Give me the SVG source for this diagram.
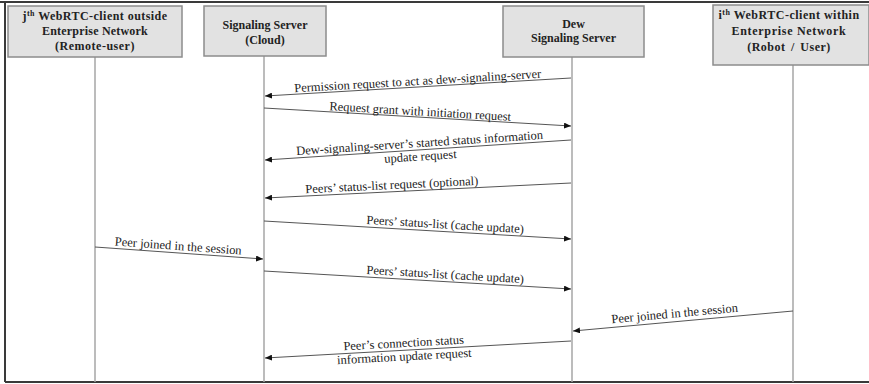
<svg xmlns="http://www.w3.org/2000/svg" width="869" height="384" viewBox="0 0 869 384">
<style>
.box{fill:#e2e2e2;stroke:#8c8c8c;stroke-width:1.5}
.hd{font-family:"Liberation Serif","Times New Roman",serif;font-size:12px;font-weight:bold;fill:#222;text-anchor:middle}
.life{stroke:#a6a6a6;stroke-width:1.5;fill:none}
.msg{stroke:#555;stroke-width:1;fill:none;marker-end:url(#ah)}
.lbl{font-family:"Liberation Serif","Times New Roman",serif;font-size:12.5px;fill:#222;text-anchor:middle}
.frame{stroke:#3a3a3a;stroke-width:2;fill:none}
</style>
<defs>
<marker id="ah" markerUnits="userSpaceOnUse" markerWidth="8" markerHeight="6" refX="7" refY="3" orient="auto">
<path d="M0,0 L7,3 L0,6 Z" fill="#111"/>
</marker>
</defs>
<rect width="869" height="384" fill="#fff"/>
<g id="frame">
<line class="frame" x1="0" y1="2" x2="869" y2="2"/>
<line class="frame" x1="5" y1="2" x2="5" y2="382"/>
<line class="frame" x1="5" y1="382" x2="869" y2="382"/>
</g>
<g id="lifelines">
<line class="life" x1="95" y1="57" x2="95" y2="382"/>
<line class="life" x1="264" y1="56" x2="264" y2="382"/>
<line class="life" x1="572" y1="57" x2="572" y2="382"/>
<line class="life" x1="793" y1="65" x2="793" y2="382"/>
</g>
<g id="node-remote">
<rect class="box" x="8" y="6" width="174" height="51"/>
<text class="hd" x="95" y="20" letter-spacing="0.45">j<tspan font-size="8" dy="-4">th</tspan><tspan dy="4"> WebRTC-client outside</tspan></text>
<text class="hd" x="95" y="35" letter-spacing="0.2">Enterprise Network</text>
<text class="hd" x="95" y="50" letter-spacing="0.5">(Remote-user)</text>
</g>
<g id="node-cloud">
<rect class="box" x="204" y="6" width="122" height="50"/>
<text class="hd" x="265" y="29">Signaling Server</text>
<text class="hd" x="265" y="44">(Cloud)</text>
</g>
<g id="node-dew">
<rect class="box" x="503" y="6" width="141" height="51"/>
<text class="hd" x="573.5" y="28">Dew</text>
<text class="hd" x="573.5" y="42">Signaling Server</text>
</g>
<g id="node-robot">
<rect class="box" x="713" y="5" width="156" height="60"/>
<text class="hd" x="789" y="19" letter-spacing="0.5">i<tspan font-size="8" dy="-4">th</tspan><tspan dy="4"> WebRTC-client within</tspan></text>
<text class="hd" x="789" y="35" letter-spacing="0.7">Enterprise Network</text>
<text class="hd" x="789" y="51" letter-spacing="0.5" word-spacing="2">(Robot / User)</text>
</g>
<g id="connectors">
<line class="msg" x1="571" y1="78" x2="265" y2="96"/>
<line class="msg" x1="264" y1="108" x2="571" y2="126"/>
<line class="msg" x1="571" y1="140" x2="265" y2="160"/>
<line class="msg" x1="571" y1="183" x2="265" y2="198"/>
<line class="msg" x1="264" y1="221" x2="571" y2="239"/>
<line class="msg" x1="95" y1="247" x2="263" y2="259"/>
<line class="msg" x1="264" y1="271" x2="571" y2="289"/>
<line class="msg" x1="793" y1="311" x2="573" y2="331"/>
<line class="msg" x1="571" y1="341" x2="265" y2="358"/>
</g>
<g id="labels">
<text class="lbl" x="418" y="85" transform="rotate(-3.37 418 85)">Permission request to act as dew-signaling-server</text>
<text class="lbl" x="420" y="115.5" transform="rotate(3.36 420 115.5)">Request grant with initiation request</text>
<g transform="rotate(-3.74 420 150)">
<text class="lbl" x="420" y="147">Dew-signaling-server’s started status information</text>
<text class="lbl" x="420" y="160.5">update request</text>
</g>
<text class="lbl" x="392" y="189" transform="rotate(-2.81 392 189)">Peers’ status-list request (optional)</text>
<text class="lbl" x="445" y="228.5" transform="rotate(3.36 445 228.5)">Peers’ status-list (cache update)</text>
<text class="lbl" x="178" y="250" transform="rotate(4.09 178 250)">Peer joined in the session</text>
<text class="lbl" x="445" y="278.5" transform="rotate(3.36 445 278.5)">Peers’ status-list (cache update)</text>
<text class="lbl" x="675" y="317.5" transform="rotate(-5.2 675 317.5)">Peer joined in the session</text>
<g transform="rotate(-3.18 404 350)">
<text class="lbl" x="404" y="347">Peer’s connection status</text>
<text class="lbl" x="404" y="360.5">information update request</text>
</g>
</g>
</svg>
